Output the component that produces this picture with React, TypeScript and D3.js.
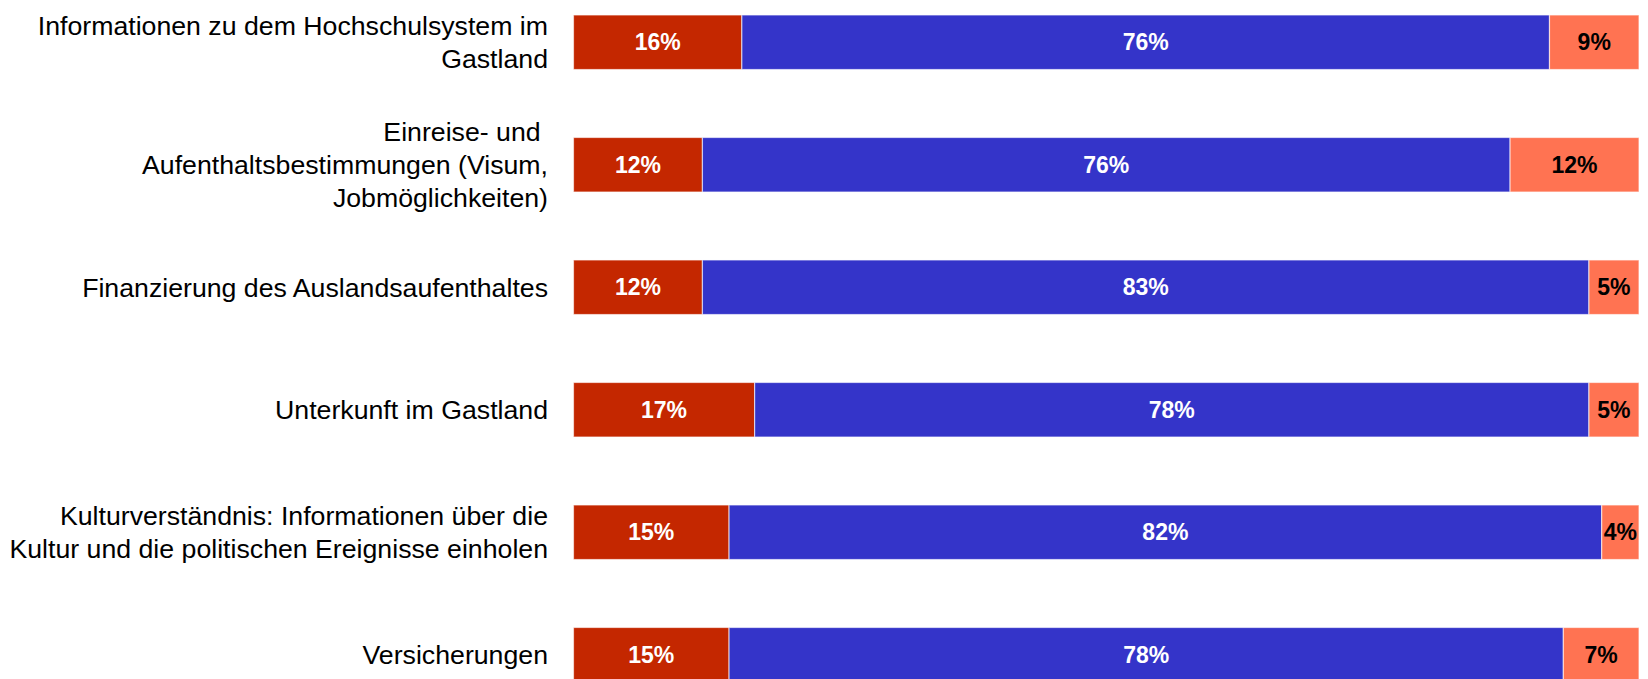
import React from "react";
import * as d3 from "d3";

const categories: string[] = [
  "Informationen zu dem Hochschulsystem im\nGastland",
  "Einreise- und \nAufenthaltsbestimmungen (Visum,\nJobmöglichkeiten)",
  "Finanzierung des Auslandsaufenthaltes",
  "Unterkunft im Gastland",
  "Kulturverständnis: Informationen über die\nKultur und die politischen Ereignisse einholen",
  "Versicherungen",
];
// segment shares (%)
const seriesA: number[] = [15.8, 12.1, 12.1, 17.0, 14.6, 14.6];
const seriesB: number[] = [75.8, 75.8, 83.2, 78.3, 81.9, 78.3];
const seriesC: number[] = [8.4, 12.1, 4.7, 4.7, 3.5, 7.1];
// printed labels
const labelsA: string[] = ["16%", "12%", "12%", "17%", "15%", "15%"];
const labelsB: string[] = ["76%", "76%", "83%", "78%", "82%", "78%"];
const labelsC: string[] = ["9%", "12%", "5%", "5%", "4%", "7%"];

const colors = ["#C42700", "#3434C9", "#FF7352"];
const textColors = ["#ffffff", "#ffffff", "#000000"];

const W = 1648;
const H = 679;

export default function App() {
  const x = d3.scaleLinear().domain([0, 100]).range([573.5, 1639]);
  const y = d3
    .scaleBand<string>()
    .domain(categories)
    .range([-19, 716])
    .paddingInner(0.555)
    .paddingOuter(0.2775);

  const rows = categories.map((c, i) => {
    const vals = [seriesA[i], seriesB[i], seriesC[i]];
    const labs = [labelsA[i], labelsB[i], labelsC[i]];
    let acc = 0;
    const segs = vals.map((v, k) => {
      const s = { k, lab: labs[k], x0: acc, x1: acc + v };
      acc += v;
      return s;
    });
    return { c, segs };
  });

  const lineH = 33;

  return (
    <svg
      width={W}
      height={H}
      style={{ position: "absolute", left: 0, top: 0, display: "block" }}
      fontFamily="'Liberation Sans', Arial, sans-serif"
    >
      <rect width={W} height={H} fill="#fff" />
      {rows.map((r) => {
        const y0 = y(r.c)!;
        const bw = y.bandwidth();
        const cy = y0 + bw / 2;
        const lines = r.c.split("\n");
        return (
          <g key={r.c}>
            {r.segs.map((s) => (
              <rect
                key={s.k}
                x={x(s.x0)}
                y={y0}
                width={x(s.x1) - x(s.x0)}
                height={bw}
                fill={colors[s.k]}
                stroke="#ffffff"
                strokeOpacity={0.6}
                strokeWidth={1.2}
              />
            ))}
            {r.segs.map((s) => (
              <text
                key={"t" + s.k}
                x={(x(s.x0) + x(s.x1)) / 2}
                y={cy}
                dy="0.35em"
                textAnchor="middle"
                fontWeight="bold"
                fontSize={23}
                fill={textColors[s.k]}
              >
                {s.lab}
              </text>
            ))}
            <text x={548} y={cy} textAnchor="end" fontSize={26.7} fill="#000">
              {lines.map((l, j) => (
                <tspan
                  key={j}
                  x={548}
                  y={cy + (j - (lines.length - 1) / 2) * lineH}
                  dy="0.35em"
                  style={{ whiteSpace: "pre" }}
                >
                  {l}
                </tspan>
              ))}
            </text>
          </g>
        );
      })}
    </svg>
  );
}
